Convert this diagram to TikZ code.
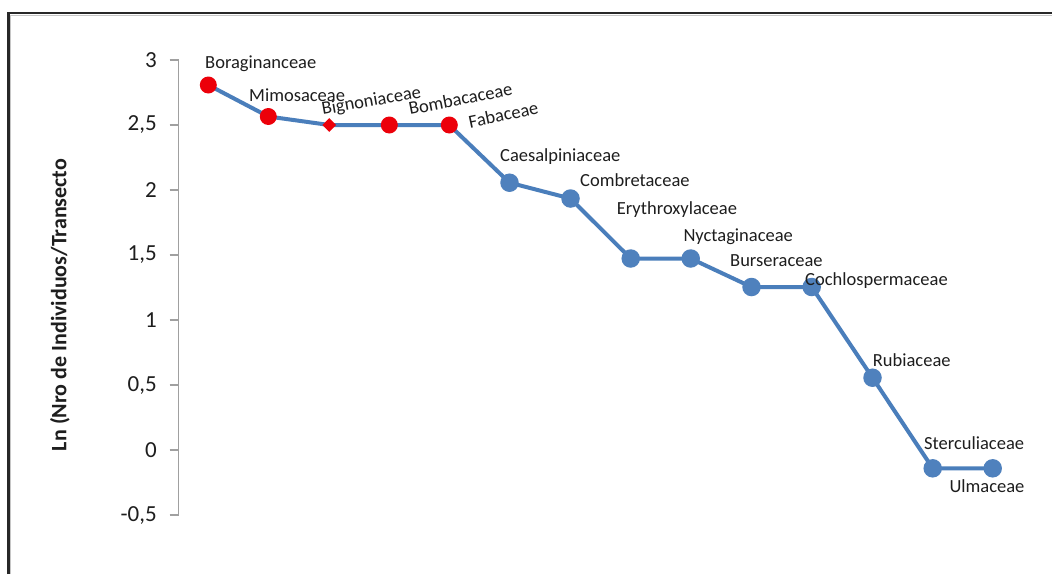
\documentclass[tikz,border=0pt]{standalone}
\usepackage{fontspec}
\setmainfont{Carlito}
\usetikzlibrary{shapes.geometric}
\definecolor{serblue}{RGB}{74,126,187}
\definecolor{dotblue}{RGB}{79,129,189}
\definecolor{dotred}{RGB}{236,0,10}
\definecolor{axisgray}{RGB}{160,160,160}
\definecolor{framegray}{RGB}{40,40,40}
\definecolor{txt}{RGB}{30,30,30}
\tikzset{
  bluedot/.style={circle,fill=dotblue,inner sep=0pt,minimum size=18.5pt},
  reddot/.style={circle,fill=dotred,inner sep=0pt,minimum size=17pt},
  reddiamond/.style={diamond,fill=dotred,inner sep=0pt,minimum size=14pt},
  series/.style={serblue,line width=4pt,line join=round},
  famlabel/.style={font=\fontsize{18.5}{20}\selectfont,text=txt,inner sep=0pt},
  ticklabel/.style={font=\fontsize{23}{25}\selectfont,text=txt,inner sep=0pt,anchor=east},
  axisline/.style={axisgray,line width=1.3pt},
}
\begin{document}
\begin{tikzpicture}[x=1pt,y=-1pt]
\useasboundingbox (0,0) rectangle (1052,574);
\fill[white] (0,0) rectangle (1052,574);
% frame
\draw[gray!45,line width=1pt] (10.5,574) -- (10.5,15) -- (1052,15);
\draw[framegray,line width=2.4pt] (8.3,574) -- (8.3,12.8) -- (1052,12.8);
% axis
\coordinate (axtop) at (178.5,60);
\coordinate (axbot) at (178.5,515);
\draw[axisline] (axtop) -- (axbot);
\foreach \v/\lab [count=\i] in {3/3,2.5/{2,5},2/2,1.5/{1,5},1/1,0.5/{0,5},0/0,-0.5/{-0,5}}{
  \coordinate (t\i) at (178.5,{450-130*\v});
  \coordinate (tl\i) at (169.5,{450-130*\v});
  \draw[axisline] (tl\i) -- (t\i);
  \node[ticklabel] (tk\i) at (157,{450-130*\v}) {\lab};
}
\node[font=\bfseries\fontsize{22}{24}\selectfont,text=txt,rotate=90,inner sep=0pt] (ytitle) at (60,305) {Ln (Nro de Individuos/Transecto};
% data points
\coordinate (p1) at (208.3,85);
\coordinate (p2) at (268.3,116.5);
\coordinate (p3) at (329.3,125);
\coordinate (p4) at (389.3,125);
\coordinate (p5) at (449.3,125);
\coordinate (p6) at (509.5,182.7);
\coordinate (p7) at (570.5,198.5);
\coordinate (p8) at (630.7,258.5);
\coordinate (p9) at (690.7,258.5);
\coordinate (p10) at (751.5,287);
\coordinate (p11) at (811.7,287);
\coordinate (p12) at (872.5,377.7);
\coordinate (p13) at (932.7,468.3);
\coordinate (p14) at (992.7,468.3);
\draw[series] (p1) -- (p2) -- (p3) -- (p4) -- (p5) -- (p6) -- (p7) -- (p8) -- (p9) -- (p10) -- (p11) -- (p12) -- (p13) -- (p14);
\node[reddot] (m1) at (p1) {};
\node[reddot] (m2) at (p2) {};
\node[reddiamond] (m3) at (p3) {};
\node[reddot] (m4) at (p4) {};
\node[reddot] (m5) at (p5) {};
\foreach \i in {6,...,14}{\node[bluedot] (m\i) at (p\i) {};}
% labels
\node[famlabel,anchor=base west] (l1) at (205,68) {Boraginanceae};
\node[famlabel,anchor=base west] (l2) at (249,101.7) {Mimosaceae};
\node[famlabel,anchor=base west,rotate=10] (l3) at (322.7,115) {Bignoniaceae};
\node[famlabel,anchor=base west,rotate=11] (l4) at (410,115) {Bombacaceae};
\node[famlabel,anchor=base west,rotate=12] (l5) at (470,128.3) {Fabaceae};
\node[famlabel,anchor=base west] (l6) at (500,161.7) {Caesalpiniaceae};
\node[famlabel,anchor=base west] (l7) at (580,186.7) {Combretaceae};
\node[famlabel,anchor=base west] (l8) at (616.7,214.5) {Erythroxylaceae};
\node[famlabel,anchor=base west] (l9) at (683.3,241.7) {Nyctaginaceae};
\node[famlabel,anchor=base west] (l10) at (730,266) {Burseraceae};
\node[famlabel,anchor=base west] (l11) at (805,285) {Cochlospermaceae};
\node[famlabel,anchor=base west] (l12) at (872.7,366.7) {Rubiaceae};
\node[famlabel,anchor=base west] (l13) at (924,449.3) {Sterculiaceae};
\node[famlabel,anchor=base west] (l14) at (949.3,492.7) {Ulmaceae};
\end{tikzpicture}
\end{document}
